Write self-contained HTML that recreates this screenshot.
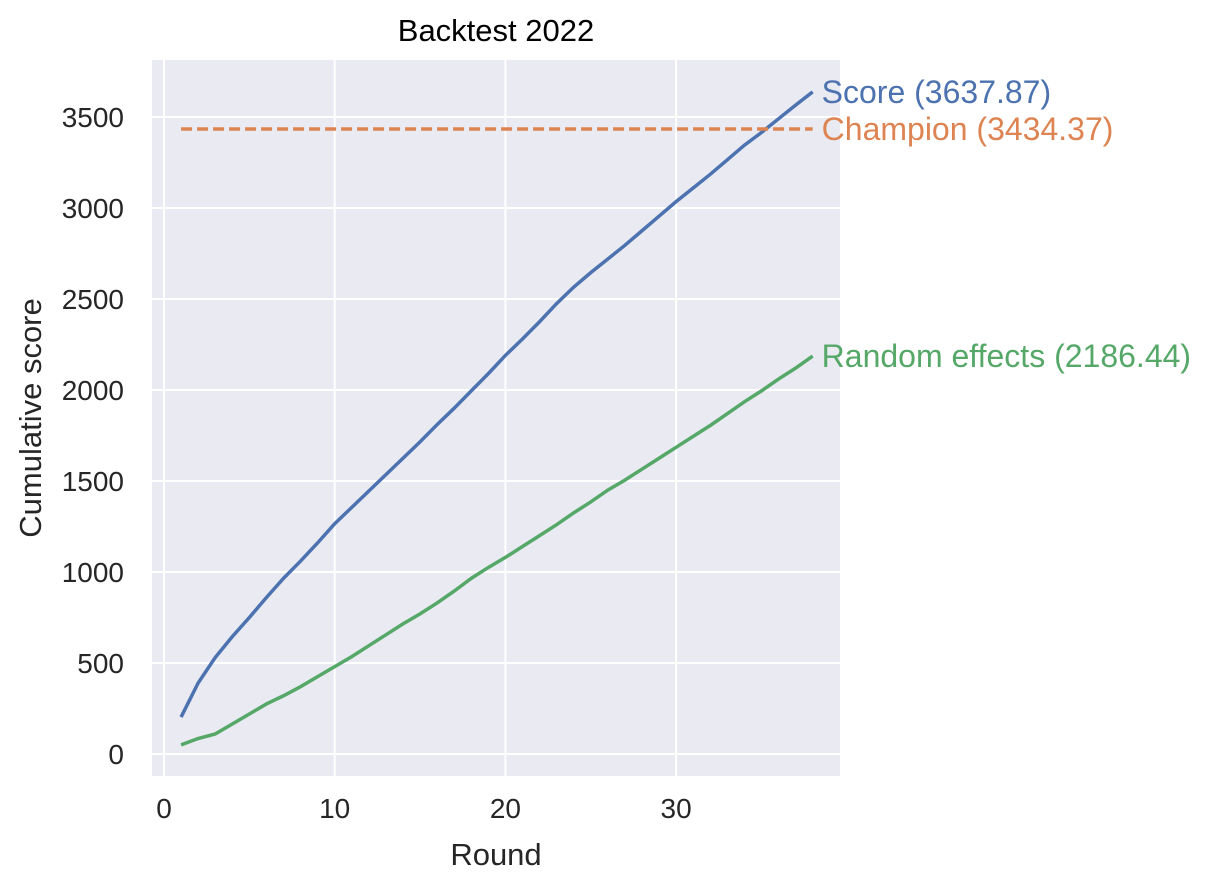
<!DOCTYPE html>
<html><head><meta charset="utf-8"><style>
body{margin:0;background:#fff;}
svg text{font-family:"Liberation Sans",Arial,sans-serif;}
</style></head><body>
<svg width="1209" height="890" viewBox="0 0 1209 890">
<rect x="152" y="60" width="688" height="716" fill="#eaeaf2"/>
<g id="grid"></g>
<g id="ticks"></g>
<g id="series"></g>
<text x="496" y="41" font-size="31" text-anchor="middle" fill="#000">Backtest 2022</text>
<text x="496" y="865" font-size="31" text-anchor="middle" fill="#262626">Round</text>
<text transform="translate(41,418) rotate(-90)" font-size="31" text-anchor="middle" fill="#262626">Cumulative score</text>
</svg>
<script>
const rounds=[1,2,3,4,5,6,7,8,9,10,11,12,13,14,15,16,17,18,19,20,21,22,23,24,25,26,27,28,29,30,31,32,33,34,35,36,37,38];
const scoreVals=[203,390,530,645,750,860,965,1060,1160,1265,1355,1445,1535,1625,1715,1810,1900,1995,2090,2190,2280,2375,2475,2565,2645,2720,2795,2875,2955,3035,3110,3185,3265,3345,3415,3490,3565,3637.87];
const randomVals=[50,85,110,165,220,275,320,370,425,480,535,595,655,715,770,830,895,965,1025,1080,1140,1200,1260,1325,1385,1450,1505,1565,1625,1685,1745,1805,1870,1935,1995,2060,2120,2186.44];
const championVal=3434.37;
const xTicks=[0,10,20,30];
const yTicks=[0,500,1000,1500,2000,2500,3000,3500];
const NS="http://www.w3.org/2000/svg";
const xs=v=>164+v*17.07;
const ys=v=>754-v*0.182;
function mk(t,a,p){const e=document.createElementNS(NS,t);for(const k in a)e.setAttribute(k,a[k]);p.appendChild(e);return e;}
const grid=document.getElementById('grid'),ticks=document.getElementById('ticks'),ser=document.getElementById('series');
xTicks.forEach(v=>{
 const l=mk('line',{x1:xs(v),x2:xs(v),y1:60,y2:776,stroke:'#fff','stroke-width':2},grid);
 
 
 const t=mk('text',{x:xs(v),y:818,'font-size':28,'text-anchor':'middle',fill:'#262626'},ticks);t.textContent=v;
 
 
});
yTicks.forEach(v=>{
 const l=mk('line',{x1:152,x2:840,y1:ys(v),y2:ys(v),stroke:'#fff','stroke-width':2},grid);
 
 
 const t=mk('text',{x:124,y:ys(v)+10,'font-size':28,'text-anchor':'end',fill:'#262626'},ticks);t.textContent=v;
 
 
});
function line(vals,color,name){
 const p=mk('polyline',{points:vals.map((v,i)=>xs(rounds[i])+','+ys(v)).join(' '),fill:'none',stroke:color,'stroke-width':3.5},ser);
 
 
}
line(scoreVals,'#4c72b0','score-line');
line(randomVals,'#55a868','random-effects-line');
const ch=mk('line',{x1:xs(rounds[0]),x2:xs(rounds[rounds.length-1]),y1:ys(championVal),y2:ys(championVal),stroke:'#dd8452','stroke-width':3.5,'stroke-dasharray':'11,5'},ser);


function lab(val,txt,color,name){
 const t=mk('text',{x:xs(rounds[rounds.length-1])+9,y:ys(val)+11,'font-size':32,fill:color},ser);t.textContent=txt;
 
 
}
const last=scoreVals.length-1;
lab(scoreVals[last],'Score ('+scoreVals[last].toFixed(2)+')','#4c72b0','score-label');
lab(championVal,'Champion ('+championVal.toFixed(2)+')','#dd8452','champion-label');
lab(randomVals[last],'Random effects ('+randomVals[last].toFixed(2)+')','#55a868','random-effects-label');
</script>
</body></html>
